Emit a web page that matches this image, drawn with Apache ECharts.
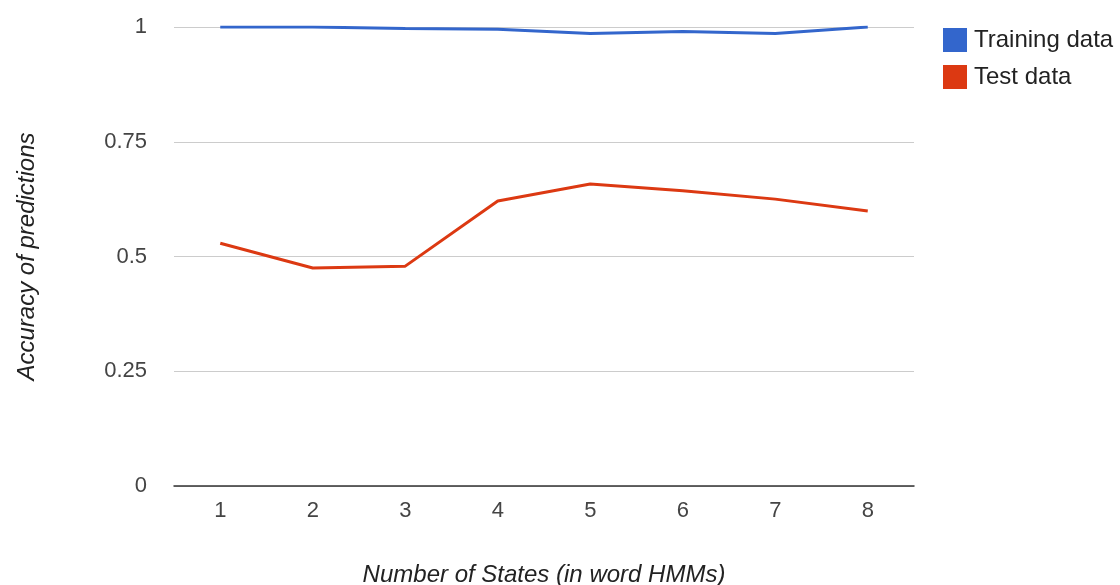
<!DOCTYPE html>
<html><head><meta charset="utf-8">
<script src="https://cdn.jsdelivr.net/npm/echarts@6/dist/echarts.min.js"></script>
<style>html,body{margin:0;padding:0;background:#fff;overflow:hidden}#c{width:1120px;height:585px}</style>
</head><body><div id="c"></div>
<script>
const categories = ['1','2','3','4','5','6','7','8'];
const trainingData = [1.0, 1.0, 0.997, 0.995, 0.986, 0.99, 0.986, 1.0];
const testData = [0.529, 0.475, 0.479, 0.621, 0.658, 0.643, 0.625, 0.599];
const yTicks = [0, 0.25, 0.5, 0.75, 1];

const chart = echarts.init(document.getElementById('c'));
const font = 'Liberation Sans, Arial, sans-serif';
chart.setOption({
  animation: false,
  textStyle: {fontFamily: font},
  grid: {left: 174, right: 206, top: 27, bottom: 99, containLabel: false, outerBoundsMode: 'none'},
  legend: {
    orient: 'vertical', left: 938, top: 23, itemWidth: 24, itemHeight: 24, itemGap: 13,
    icon: 'rect',
    textStyle: {fontSize: 24, color: '#222', fontFamily: font, padding: [0, 0, 0, 2]},
    data: ['Training data', 'Test data']
  },
  xAxis: {
    type: 'category', data: categories, boundaryGap: true,
    name: 'Number of States (in word HMMs)', nameLocation: 'middle', nameGap: 77,
    nameTextStyle: {fontSize: 24, fontStyle: 'italic', color: '#222'},
    axisLine: {lineStyle: {color: '#333', width: 1.5}},
    axisTick: {show: false},
    axisLabel: {fontSize: 22, color: '#444', margin: 14}
  },
  yAxis: {
    type: 'value', min: 0, max: 1, interval: 0.25,
    name: 'Accuracy of predictions', nameLocation: 'middle', nameGap: 135,
    nameTextStyle: {fontSize: 24, fontStyle: 'italic', color: '#222'},
    axisLine: {show: false}, axisTick: {show: false},
    axisLabel: {fontSize: 22, color: '#444', margin: 27,
      formatter: v => { const i = yTicks.indexOf(v); return i >= 0 ? String(yTicks[i]) : ''; }},
    splitLine: {lineStyle: {color: '#ccc', width: 1}}
  },
  series: [
    {name: 'Training data', type: 'line', data: trainingData, symbol: 'none',
     lineStyle: {color: '#3366cc', width: 3}, itemStyle: {color: '#3366cc'}},
    {name: 'Test data', type: 'line', data: testData, symbol: 'none',
     lineStyle: {color: '#dc3912', width: 3}, itemStyle: {color: '#dc3912'}}
  ]
});
</script></body></html>
